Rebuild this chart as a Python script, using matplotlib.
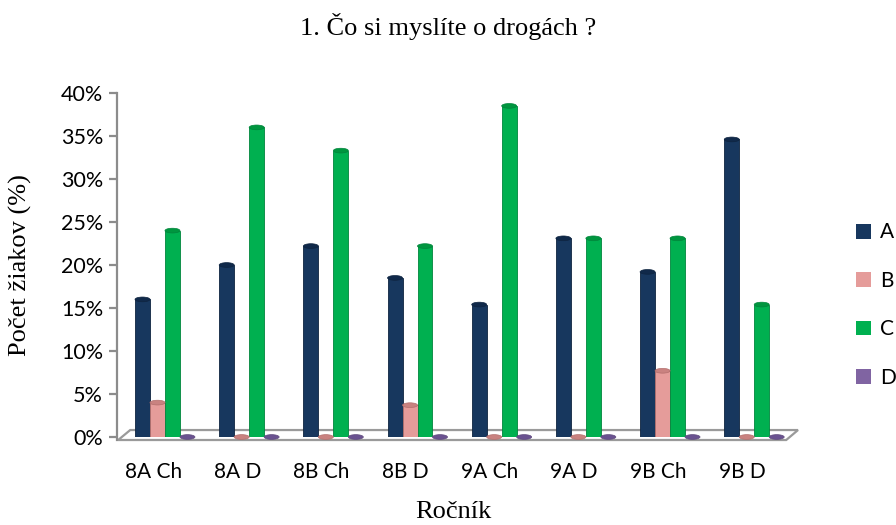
import matplotlib
matplotlib.use('Agg')

import matplotlib.pyplot as plt
from matplotlib.patches import Ellipse, Polygon, Patch
import numpy as np

# survey data: share of pupils (%) per class and answer
classes = ['8A Ch', '8A D', '8B Ch', '8B D', '9A Ch', '9A D', '9B Ch', '9B D']
answers = ['A', 'B', 'C', 'D']
ans_a = [16.0, 20.0, 22.2, 18.5, 15.4, 23.1, 19.2, 34.6]
ans_b = [4.0, 0.0, 0.0, 3.7, 0.0, 0.0, 7.7, 0.0]
ans_c = [24.0, 36.0, 33.3, 22.2, 38.5, 23.1, 23.1, 15.4]
ans_d = [0.0, 0.0, 0.0, 0.0, 0.0, 0.0, 0.0, 0.0]

colors = ['#17375e', '#e59c9a', '#00b050', '#8064a2']
edges = ['#0e2440', '#b36f6d', '#00853c', '#5f4a7d']
tops = ['#10294a', '#c98280', '#00963f', '#6a5290']

sans = ['Lato', 'DejaVu Sans']
serif = ['Liberation Serif', 'DejaVu Serif']

fig = plt.figure(figsize=(8.96, 5.25), dpi=100)
ax = fig.add_axes([117 / 896, 1 - 437 / 525, 681 / 896, 344 / 525])

x = np.arange(len(classes))
w = 0.178
shift = 0.14
series = [ans_a, ans_b, ans_c, ans_d]

# floor of the plot
floor = Polygon([(-0.416, -0.35), (-0.273, 0.81), (7.66, 0.81), (7.52, -0.35)],
                closed=True, facecolor='white', edgecolor='#9a9a9a', lw=1.6,
                clip_on=False, zorder=1)
ax.add_patch(floor)

for k, vals in enumerate(series):
    xs = x + shift + (k - 1.5) * w
    ax.bar(xs, vals, width=w, color=colors[k], edgecolor=edges[k],
           linewidth=0.6, zorder=3)
    for xi, v in zip(xs, vals):
        ax.add_patch(Ellipse((xi, v), w, 0.55, facecolor=tops[k],
                             edgecolor=edges[k], lw=0.5, zorder=4,
                             clip_on=False))

ax.set_xlim(-0.43, 7.66)
ax.set_ylim(0, 40)
ax.set_yticks(np.arange(0, 41, 5))
ax.set_yticklabels([f'{t}%' for t in range(0, 41, 5)], family=sans, fontsize=15.5)
ax.set_xticks(x)
ax.set_xticklabels(classes, family=sans, fontsize=15)

for s in ['top', 'right', 'bottom']:
    ax.spines[s].set_visible(False)
ax.spines['left'].set_color('#8c8c8c')
ax.spines['left'].set_linewidth(1.6)
ax.spines['left'].set_bounds(-0.35, 40)
ax.tick_params(axis='y', length=6, width=1.6, color='#8c8c8c', pad=4)
ax.tick_params(axis='x', length=0, pad=18)

fig.text(0.5, 1 - 27 / 525, '1. Čo si myslíte o drogách ?', ha='center',
         va='center', family=serif, fontsize=19)
fig.text(20 / 896, 1 - 265 / 525, 'Počet žiakov (%)', ha='center', va='center',
         rotation=90, family=serif, fontsize=19)
fig.text(453 / 896, 1 - 512 / 525, 'Ročník', ha='center', va='center',
         family=serif, fontsize=19)

handles = [Patch(facecolor=c) for c in colors]
fig.legend(handles, answers, loc='center left',
           bbox_to_anchor=(856 / 896, 1 - 305 / 525), frameon=False,
           prop={'family': sans, 'size': 15}, handlelength=0.7,
           handleheight=0.7, handletextpad=0.45, labelspacing=1.36,
           borderpad=0, borderaxespad=0)

fig.savefig('out.png', dpi=100)
